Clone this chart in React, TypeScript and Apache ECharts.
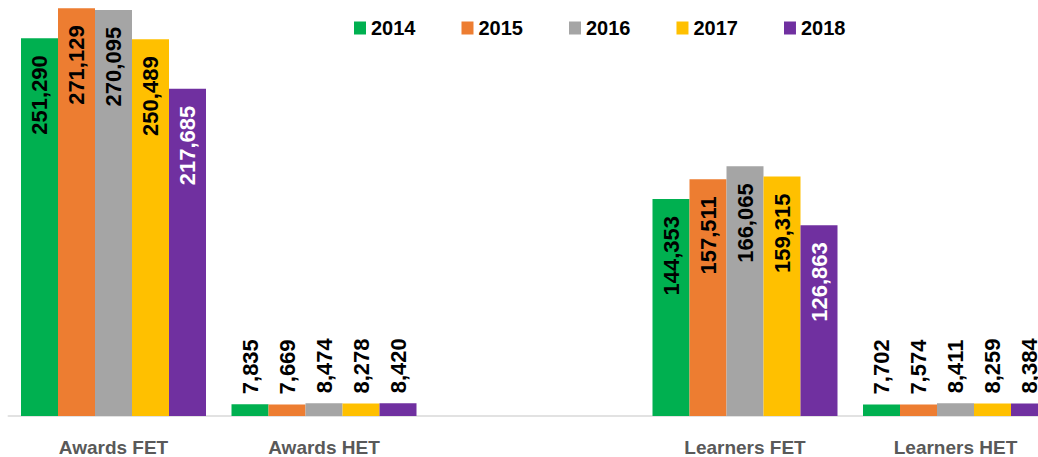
import React, { useEffect, useRef } from "react";
import * as echarts from "echarts";

const categories = ["Awards FET", "Awards HET", "", "Learners FET", "Learners HET"];
const years = ["2014", "2015", "2016", "2017", "2018"];
const v2014 = [251290, 7835, null, 144353, 7702];
const v2015 = [271129, 7669, null, 157511, 7574];
const v2016 = [270095, 8474, null, 166065, 8411];
const v2017 = [250489, 8278, null, 159315, 8259];
const v2018 = [217685, 8420, null, 126863, 8384];
const seriesValues = [v2014, v2015, v2016, v2017, v2018];
const colors = ["#00B050", "#ED7D31", "#A5A5A5", "#FFC000", "#7030A0"];
const insideTextColors = ["#000000", "#000000", "#000000", "#000000", "#FFFFFF"];

const FONT = '"Liberation Sans", Arial, sans-serif';

export default function App() {
  const ref = useRef<HTMLDivElement>(null);
  useEffect(() => {
    if (!ref.current) return;
    const chart = echarts.init(ref.current, undefined, { renderer: "svg" });
    const fmt = (v: number) => v.toLocaleString("en-US");
    const series = seriesValues.map((vals, i) => ({
      name: years[i],
      type: "bar",
      barWidth: 37,
      barGap: "0%",
      itemStyle: { color: colors[i] },
      data: vals.map((v) => {
        if (v === null) return "-";
        const big = v > 50000;
        return {
          value: v,
          label: big
            ? {
                show: true,
                position: "insideTop",
                rotate: 90,
                align: "right",
                verticalAlign: "middle",
                distance: 17,
                color: insideTextColors[i],
              }
            : {
                show: true,
                position: "top",
                rotate: 90,
                align: "left",
                verticalAlign: "middle",
                distance: 10,
                color: "#000000",
              },
        };
      }),
      label: {
        show: true,
        fontFamily: FONT,
        fontWeight: "bold",
        fontSize: 22,
        formatter: (p: any) => fmt(p.value),
      },
    }));
    chart.setOption({
      animation: false,
      backgroundColor: "#ffffff",
      legend: {
        data: years,
        left: 354,
        top: 18,
        padding: 0,
        icon: "rect",
        itemWidth: 12,
        itemHeight: 13,
        itemGap: 46,
        textStyle: { fontFamily: FONT, fontWeight: "bold", fontSize: 20, color: "#000000" },
      },
      grid: { left: 8.25, top: 1, width: 1052.5, height: 415 },
      xAxis: {
        type: "category",
        data: categories,
        axisLine: { show: true, lineStyle: { color: "#D9D9D9", width: 1.5 } },
        axisTick: { show: false },
        axisLabel: {
          interval: 0,
          margin: 22,
          fontFamily: FONT,
          fontWeight: "bold",
          fontSize: 19,
          color: "#595959",
        },
      },
      yAxis: {
        type: "value",
        min: 0,
        max: 276000,
        show: false,
        splitLine: { show: false },
      },
      series,
    });
    return () => chart.dispose();
  }, []);
  return (
    <div
      style={{
        position: "absolute",
        left: 0,
        top: 0,
        width: 1038,
        height: 457,
        overflow: "hidden",
        background: "#ffffff",
      }}
    >
      <div ref={ref} style={{ width: 1070, height: 457 }} />
    </div>
  );
}
